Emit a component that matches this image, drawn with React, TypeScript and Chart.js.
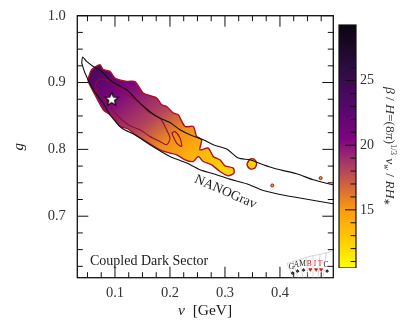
import React, { useEffect, useRef } from "react";
import { Chart, registerables } from "chart.js";

Chart.register(...registerables);

// ---- data ----
const outerV = [0.0515,0.0576,0.0727,0.0787,0.0909,0.1,0.1213,0.1364,0.1515,0.1758,0.1849,0.194,0.2055,0.2151,0.2273,0.2424,0.2485,0.2576,0.2545,0.2696,0.2787,0.2909,0.3,0.3151,0.3164,0.306,0.2909,0.2758,0.2605,0.2515,0.2424,0.2273,0.2122,0.2,0.1818,0.1667,0.1515,0.1364,0.1242,0.1091,0.1,0.0909,0.0787,0.0636,0.0515,0.0515];
const outerG = [0.9067,0.9192,0.9266,0.9192,0.9166,0.9067,0.9016,0.9016,0.8843,0.8768,0.8668,0.8642,0.8548,0.8518,0.8343,0.8343,0.8193,0.8144,0.7994,0.8019,0.7894,0.7844,0.7754,0.772,0.7645,0.7605,0.7669,0.7769,0.7819,0.7894,0.7819,0.7844,0.7919,0.7945,0.7994,0.8069,0.8144,0.8219,0.8304,0.8343,0.8443,0.8518,0.8593,0.8817,0.9016,0.9067];
const innerV = [0.0636,0.0727,0.0909,0.106,0.1242,0.1455,0.1605,0.1818,0.1909,0.2,0.194,0.1818,0.1636,0.1455,0.1242,0.1031,0.0849,0.0696,0.0636];
const innerG = [0.8967,0.9052,0.9016,0.8918,0.8817,0.8693,0.8567,0.8469,0.8343,0.8169,0.8069,0.8118,0.8193,0.8293,0.8368,0.8518,0.8693,0.8817,0.8967];
const loopV = [0.2031,0.2091,0.2182,0.2213,0.2122,0.2031];
const loopG = [0.8244,0.8268,0.8169,0.8043,0.8094,0.8244];
const islandV = [0.34,0.3455,0.3527,0.3576,0.3545,0.3467,0.3413,0.34];
const islandG = [0.7784,0.7855,0.7855,0.7795,0.772,0.7705,0.7744,0.7784];
const dotV = [0.386,0.474];
const dotG = [0.746,0.757];
const bestV = [0.094];
const bestG = [0.875];
const nanoUpperV = [0.0395,0.0413,0.0485,0.0605,0.0758,0.094,0.1213,0.1485,0.1758,0.2,0.2182,0.2364,0.2605,0.2787,0.3031,0.3242,0.3455,0.3696,0.394,0.4304,0.4605,0.4964];
const nanoUpperG = [0.9292,0.9382,0.9316,0.9241,0.9166,0.9016,0.8892,0.8668,0.8493,0.8403,0.8293,0.8219,0.8144,0.8069,0.8005,0.787,0.7844,0.7769,0.7705,0.7635,0.7545,0.747];
const nanoLowerV = [0.0395,0.0455,0.0605,0.0787,0.0909,0.1122,0.1364,0.1636,0.2,0.2304,0.2545,0.2787,0.3091,0.3395,0.3696,0.4122,0.4545,0.4964];
const nanoLowerG = [0.9292,0.9142,0.8892,0.8693,0.8518,0.8319,0.8219,0.8069,0.7894,0.7795,0.7695,0.7635,0.7555,0.7485,0.7385,0.7305,0.7246,0.7186];

const xTicks = [0.1, 0.2, 0.3, 0.4];
const yTicks = [0.7, 0.8, 0.9, 1.0];
const xMinor = [0.05,0.075,0.125,0.15,0.175,0.225,0.25,0.275,0.325,0.35,0.375,0.425,0.45,0.475];
const yMinor = [0.625,0.65,0.675,0.725,0.75,0.775,0.825,0.85,0.875,0.925,0.95,0.975];
const cbTicks = [15, 20, 25];
const cbMinor = [11,12,13,14,16,17,18,19,21,22,23,24,26,27,28,29];
const cbRange: [number, number] = [10.5, 29.3];

const cmapValues = [10.5, 12.5, 15, 17, 18.5, 20.5, 23, 26, 29.3];
const cmapColors = ["#ffff00", "#ffd000", "#fb9a10", "#d06040", "#a83a68", "#7d0480", "#54086a", "#2c0c3f", "#0a0510"];

const blobStops = [0, 0.2, 0.45, 0.6, 0.74, 0.92];
const blobValues = [24, 20.7, 18, 15.5, 14, 12.4];
const blobFrom = { v: 0.0576, g: 0.92 };
const blobTo = { v: 0.249, g: 0.7156 };

const FONT = '"Liberation Serif", serif';
const INK = "#1c1c1c";
const EDGE = "#a51227";
const INNER = "#8f0f33";

const pairs = (xs: number[], ys: number[]) => xs.map((x, i) => ({ x, y: ys[i] }));

function valueColor(v: number) {
  const hex = (s: string) => [1, 3, 5].map((i) => parseInt(s.slice(i, i + 2), 16));
  let i = 0;
  while (i < cmapValues.length - 2 && v > cmapValues[i + 1]) i++;
  const t = Math.max(0, Math.min(1, (v - cmapValues[i]) / (cmapValues[i + 1] - cmapValues[i])));
  const a = hex(cmapColors[i]);
  const b = hex(cmapColors[i + 1]);
  return `rgb(${a.map((c, k) => Math.round(c + (b[k] - c) * t)).join(",")})`;
}

function blobFill(ctx: any) {
  const { chart } = ctx;
  const sx = chart.scales.x;
  const sy = chart.scales.y;
  if (!sx || !sy || !chart.chartArea) return "#a83a68";
  const g = chart.ctx.createLinearGradient(
    sx.getPixelForValue(blobFrom.v), sy.getPixelForValue(blobFrom.g),
    sx.getPixelForValue(blobTo.v), sy.getPixelForValue(blobTo.g)
  );
  blobStops.forEach((s, i) => g.addColorStop(s, valueColor(blobValues[i])));
  return g;
}

function barFill(ctx: any) {
  const { chart } = ctx;
  const sy = chart.scales.y;
  if (!sy || !chart.chartArea) return "#7d0480";
  const g = chart.ctx.createLinearGradient(0, sy.getPixelForValue(cbRange[0]), 0, sy.getPixelForValue(cbRange[1]));
  cmapValues.forEach((v, i) => g.addColorStop((v - cbRange[0]) / (cbRange[1] - cbRange[0]), cmapColors[i]));
  return g;
}

function starImage() {
  const c = document.createElement("canvas");
  c.width = 17;
  c.height = 17;
  const x = c.getContext("2d")!;
  x.beginPath();
  for (let i = 0; i < 10; i++) {
    const r = i % 2 ? 2.4 : 5.6;
    const a = -Math.PI / 2 + (i * Math.PI) / 5;
    const px = 8.5 + r * Math.cos(a);
    const py = 8.8 + r * Math.sin(a);
    if (i) x.lineTo(px, py);
    else x.moveTo(px, py);
  }
  x.closePath();
  x.fillStyle = "#fff";
  x.strokeStyle = "#000";
  x.lineWidth = 2.2;
  x.lineJoin = "miter";
  x.stroke();
  x.fill();
  return c;
}

function drawRuns(c: CanvasRenderingContext2D, runs: { t: string; f: string; dy?: number }[], x: number, y: number) {
  let cx = x;
  runs.forEach((r) => {
    c.font = r.f;
    c.fillText(r.t, cx, y + (r.dy || 0));
    cx += c.measureText(r.t).width;
  });
}

function drawLogo(c: CanvasRenderingContext2D) {
  const letters = ["G", "A", "M", "B", "I", "T", "C"];
  const reds = [false, false, false, true, true, true, false];
  const xb = [293, 298, 303, 308, 313, 318, 323];
  const xt = [287, 293, 299.5, 306, 313, 320, 326];
  const yt = [263.5, 261.5, 259.5, 257.5, 256, 254.5, 253];
  c.save();
  c.lineWidth = 0.5;
  c.strokeStyle = "#b0b0b0";
  c.beginPath();
  c.moveTo(288, 278.3);
  c.lineTo(333, 278.3);
  c.stroke();
  for (let i = letters.length - 1; i >= 0; i--) {
    c.beginPath();
    c.moveTo(xb[i], 278);
    c.lineTo(xt[i], yt[i]);
    c.lineTo(xt[i] + 7, yt[i] - 2);
    c.stroke();
  }
  letters.forEach((l, i) => {
    const col = reds[i] ? "#e0161b" : "#222";
    const lx = [291.5, 296.5, 302.7, 309.3, 315, 320, 326][i];
    const ly = [267, 265.5, 264.3, 264, 264, 264, 265][i];
    c.fillStyle = col;
    c.font = `7.5px ${FONT}`;
    c.textAlign = "center";
    c.textBaseline = "middle";
    c.fillText(l, lx, ly);
    c.font = `7px ${FONT}`;
    c.fillText(reds[i] ? "♥" : "♠", lx + 1, ly + 6);
  });
  c.restore();
}

const frame = {
  id: "frame",
  afterDatasetsDraw(chart: any) {
    const c: CanvasRenderingContext2D = chart.ctx;
    const { left, right, top, bottom } = chart.chartArea;
    const sx = chart.scales.x;
    const sy = chart.scales.y;
    c.save();
    c.strokeStyle = "#111";
    c.lineWidth = 1;
    const seg = (a: number, b: number, e: number, d: number) => {
      c.beginPath();
      c.moveTo(a, b);
      c.lineTo(e, d);
      c.stroke();
    };
    xTicks.forEach((v) => {
      const p = sx.getPixelForValue(v);
      seg(p, bottom, p, bottom - 11);
      seg(p, top, p, top + 11);
    });
    xMinor.forEach((v) => {
      const p = sx.getPixelForValue(v);
      seg(p, bottom, p, bottom - 5.5);
      seg(p, top, p, top + 5.5);
    });
    yTicks.forEach((v) => {
      const p = sy.getPixelForValue(v);
      seg(left, p, left + 11, p);
      seg(right, p, right - 11, p);
    });
    yMinor.forEach((v) => {
      const p = sy.getPixelForValue(v);
      seg(left, p, left + 5.5, p);
      seg(right, p, right - 5.5, p);
    });
    c.lineWidth = 1.3;
    c.strokeRect(left, top, right - left, bottom - top);

    c.fillStyle = INK;
    c.textBaseline = "alphabetic";
    c.textAlign = "left";
    c.font = `14px ${FONT}`;
    c.fillText("Coupled Dark Sector", 90, 264.5);
    drawRuns(c, [
      { t: "v", f: `italic 15.5px ${FONT}` },
      { t: "  [GeV]", f: `15.5px ${FONT}` },
    ], 178, 315);

    c.save();
    c.translate(225.5, 192);
    c.rotate((23.5 * Math.PI) / 180);
    c.font = `13.5px ${FONT}`;
    c.textAlign = "center";
    c.textBaseline = "middle";
    c.fillText("NANOGrav", 0, 0);
    c.restore();

    drawLogo(c);
    c.restore();
  },
};

const barFrame = {
  id: "barFrame",
  afterDatasetsDraw(chart: any) {
    const c: CanvasRenderingContext2D = chart.ctx;
    const { left, right, top, bottom } = chart.chartArea;
    const sy = chart.scales.y;
    c.save();
    c.strokeStyle = "#111";
    c.lineWidth = 1;
    const tick = (v: number, len: number) => {
      const p = sy.getPixelForValue(v);
      c.beginPath();
      c.moveTo(right, p);
      c.lineTo(right - len, p);
      c.stroke();
    };
    cbTicks.forEach((v) => tick(v, 11));
    cbMinor.forEach((v) => tick(v, 5.5));
    c.lineWidth = 1.2;
    c.strokeRect(left, top, right - left, bottom - top);

    c.translate(51, 87);
    c.rotate(Math.PI / 2);
    c.fillStyle = "#333";
    c.textBaseline = "alphabetic";
    c.textAlign = "left";
    const it = `italic 13.5px ${FONT}`;
    const rm = `13.5px ${FONT}`;
    const sm = `8.5px ${FONT}`;
    const smi = `italic 8.5px ${FONT}`;
    drawRuns(c, [
      { t: "β", f: it }, { t: " / ", f: rm }, { t: "H", f: it }, { t: "=(8", f: rm }, { t: "π", f: it }, { t: ")", f: rm },
      { t: "1/3", f: sm, dy: -5 }, { t: " v", f: it }, { t: "w", f: smi, dy: 2 },
      { t: " / ", f: rm }, { t: "RH", f: it }, { t: "∗", f: sm, dy: 2 },
    ], 0, 0);
    c.restore();
  },
};

export default function App() {
  const mainRef = useRef<HTMLCanvasElement>(null);
  const barRef = useRef<HTMLCanvasElement>(null);

  useEffect(() => {
    const lineBase = { type: "scatter", showLine: true, pointRadius: 0, tension: 0.25 };
    const main = new Chart(mainRef.current!, {
      type: "scatter",
      data: {
        datasets: [
          {
            label: "Best fit", data: pairs(bestV, bestG), pointStyle: starImage(), pointRadius: 8,
            showLine: false,
          },
          {
            label: "Isolated points", data: pairs(dotV, dotG), pointRadius: 1.5, pointBorderWidth: 1,
            pointBackgroundColor: valueColor(15), pointBorderColor: EDGE, showLine: false,
          },
          { ...lineBase, label: "NANOGrav upper", data: pairs(nanoUpperV, nanoUpperG), borderColor: "#111", borderWidth: 1.1, fill: false },
          { ...lineBase, label: "NANOGrav lower", data: pairs(nanoLowerV, nanoLowerG), borderColor: "#111", borderWidth: 1.1, fill: false },
          { ...lineBase, label: "Inner loop", data: pairs(loopV, loopG), borderColor: INNER, borderWidth: 1.1, fill: false },
          { ...lineBase, label: "Inner region", data: pairs(innerV, innerG), borderColor: INNER, borderWidth: 1.1, fill: false },
          { ...lineBase, label: "Island", data: pairs(islandV, islandG), borderColor: EDGE, borderWidth: 1.4, backgroundColor: valueColor(12.6), fill: "shape" },
          { ...lineBase, label: "Outer region", data: pairs(outerV, outerG), borderColor: EDGE, borderWidth: 1.4, backgroundColor: blobFill, fill: "shape" },
        ],
      } as any,
      options: {
        responsive: false,
        animation: false,
        layout: { padding: { top: 15.7, right: 73.7, left: 0, bottom: 0 } },
        plugins: { legend: { display: false }, tooltip: { enabled: false } },
        scales: {
          x: {
            type: "linear",
            min: 0.0315,
            max: 0.497,
            grid: { display: false, drawTicks: false },
            border: { display: false },
            afterFit: (s: any) => { s.height = 53.3; s.paddingLeft = 0; s.paddingRight = 0; },
            afterBuildTicks: (s: any) => { s.ticks = xTicks.map((value) => ({ value })); },
            ticks: {
              padding: 7, autoSkip: false, maxRotation: 0, color: "#333",
              font: { family: FONT, size: 14.5 },
              callback: (v: any) => Number(v).toFixed(1),
            },
          },
          y: {
            type: "linear",
            min: 0.608,
            max: 1.0,
            grid: { display: false, drawTicks: false },
            border: { display: false },
            afterFit: (s: any) => { s.width = 77.3; s.paddingTop = 0; s.paddingBottom = 0; },
            afterBuildTicks: (s: any) => { s.ticks = yTicks.map((value) => ({ value })); },
            title: { display: true, text: "g", color: INK, padding: { top: 10, bottom: 0 }, font: { family: FONT, size: 15, style: "italic" } },
            ticks: {
              padding: 11.5, autoSkip: false, color: "#333",
              font: { family: FONT, size: 14.5 },
              callback: (v: any) => Number(v).toFixed(1),
            },
          },
        },
      } as any,
      plugins: [frame] as any,
    });

    const bar = new Chart(barRef.current!, {
      type: "bar",
      data: {
        labels: ["scale"],
        datasets: [{ label: "beta/H", data: [cbRange], backgroundColor: barFill, barPercentage: 1, categoryPercentage: 1, borderWidth: 0 }],
      } as any,
      options: {
        responsive: false,
        animation: false,
        layout: { padding: { left: 4, top: 25, right: 0, bottom: 0 } },
        plugins: { legend: { display: false }, tooltip: { enabled: false } },
        scales: {
          x: { display: false, grid: { display: false } },
          y: {
            position: "right",
            min: cbRange[0],
            max: cbRange[1],
            grid: { display: false, drawTicks: false },
            border: { display: false },
            afterFit: (s: any) => { s.width = 51; s.paddingTop = 0; s.paddingBottom = 0; },
            afterBuildTicks: (s: any) => { s.ticks = cbTicks.map((value) => ({ value })); },
            ticks: { padding: 4, color: "#333", font: { family: FONT, size: 14 } },
          },
        },
      } as any,
      plugins: [barFrame] as any,
    });

    return () => {
      main.destroy();
      bar.destroy();
    };
  }, []);

  return (
    <div style={{ position: "fixed", left: 0, top: 0, width: 407, height: 331, background: "#fff", overflow: "hidden" }}>
      <canvas ref={mainRef} width={407} height={331} style={{ position: "absolute", left: 0, top: 0 }} />
      <canvas ref={barRef} width={72} height={268} style={{ position: "absolute", left: 335, top: 0 }} />
    </div>
  );
}
